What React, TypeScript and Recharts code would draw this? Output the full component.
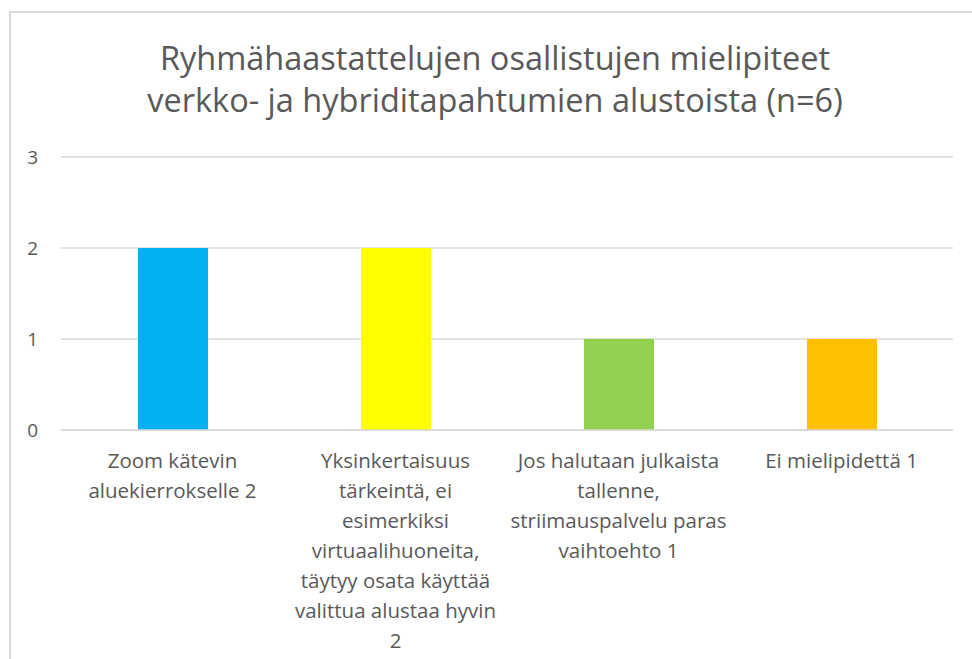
import React from 'react';
import { BarChart, Bar, XAxis, YAxis, CartesianGrid, Cell } from 'recharts';

// Chart values.
const categories = [
  'Zoom kätevin\naluekierrokselle 2',
  'Yksinkertaisuus\ntärkeintä, ei\nesimerkiksi\nvirtuaalihuoneita,\ntäytyy osata käyttää\nvalittua alustaa hyvin\n2',
  'Jos halutaan julkaista\ntallenne,\nstriimauspalvelu paras\nvaihtoehto 1',
  'Ei mielipidettä 1',
];
const counts = [2, 2, 1, 1];
const barColors = ['#00B0F0', '#FFFF00', '#92D050', '#FFC000'];
const yTicks = [0, 1, 2, 3];
const titleLines = [
  'Ryhmähaastattelujen osallistujen mielipiteet',
  'verkko- ja hybriditapahtumien alustoista (n=6)',
];

const FONT = '"Open Sans", Lato, sans-serif';
const TEXT = '#595959';

const data = categories.map((name, i) => ({ name, value: counts[i] }));

// multi-line category label, one tspan per line
function WrappedTick(props: any) {
  const { x, y, payload } = props;
  const lines = String(payload.value).split('\n');
  return (
    <text x={x} y={y} textAnchor="middle" fill={TEXT} fontSize={20.5} fontFamily={FONT}>
      {lines.map((line, i) => (
        <tspan key={i} x={x} dy={30}>
          {line}
        </tspan>
      ))}
    </text>
  );
}

export default function App() {
  return (
    <div style={{ position: 'absolute', left: 0, top: 0, width: 972, height: 659, background: '#fff', overflow: 'hidden' }}>
      <BarChart
        width={972}
        height={659}
        data={data}
        margin={{ top: 157, right: 19, bottom: 29, left: 0 }}
        barSize={70}
      >
        <CartesianGrid vertical={false} stroke="#D9D9D9" strokeWidth={1.5} />
        <XAxis
          dataKey="name"
          height={200}
          interval={0}
          tickLine={false}
          axisLine={{ stroke: '#D9D9D9', strokeWidth: 1.5 }}
          tick={<WrappedTick />}
        />
        <YAxis
          width={61}
          domain={[0, 3]}
          ticks={yTicks}
          axisLine={false}
          tickLine={false}
          tickSize={0}
          tickMargin={23}
          tick={{ fill: TEXT, fontSize: 19, fontFamily: FONT }}
        />
        <Bar dataKey="value" isAnimationActive={false}>
          {data.map((d, i) => (
            <Cell key={d.name} fill={barColors[i]} />
          ))}
        </Bar>
      </BarChart>
      <svg width={972} height={659} style={{ position: 'absolute', left: 0, top: 0, pointerEvents: 'none' }}>
        <rect x={10} y={12} width={990} height={700} fill="none" stroke="#D9D9D9" strokeWidth={2} />
        <text textAnchor="middle" fill={TEXT} fontSize={32.5} fontFamily={FONT}>
          {titleLines.map((line, i) => (
            <tspan key={i} x={495} y={70 + i * 42}>
              {line}
            </tspan>
          ))}
        </text>
      </svg>
    </div>
  );
}
